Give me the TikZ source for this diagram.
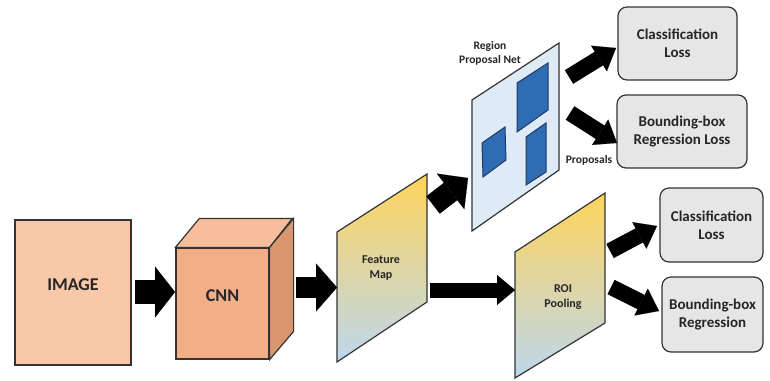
\documentclass[tikz,border=0pt]{standalone}
\usepackage{fontspec}
\setmainfont{Carlito}
\usetikzlibrary{arrows.meta}
\definecolor{edge}{HTML}{333333}
\definecolor{txt}{HTML}{262626}
\definecolor{imgfill}{HTML}{F8C8A8}
\definecolor{cnnfront}{HTML}{F2AE86}
\definecolor{cnntop}{HTML}{F6BE9C}
\definecolor{cnnside}{HTML}{D8976E}
\definecolor{fmtop}{HTML}{FFD45C}
\definecolor{fmmid}{HTML}{F3E2AE}
\definecolor{fmbot}{HTML}{BDD7EE}
\definecolor{rpnfill}{HTML}{DEEBF7}
\definecolor{sqfill}{HTML}{2E6DB4}
\definecolor{sqedge}{HTML}{1F3A60}
\definecolor{boxfill}{HTML}{E7E6E6}
\tikzset{
  outl/.style={draw=edge, line width=1.2pt, line join=miter},
  lossbox/.style={outl, fill=boxfill, rounded corners=9pt, inner sep=0pt, align=center, text=txt,
    font=\bfseries\fontsize{15}{18}\selectfont},
  smalltxt/.style={text=txt, align=center, font=\bfseries\fontsize{11.5}{14}\selectfont},
  midtxt/.style={text=txt, align=center, font=\bfseries\fontsize{12}{15}\selectfont},
  bigtxt/.style={text=txt, font=\bfseries\fontsize{18}{20}\selectfont},
  gradpanel/.style={outl, top color=fmtop, middle color=fmmid, bottom color=fmbot},
  blockarrow/.style n args={3}{draw=black, line width=#1, line cap=butt,
    -{Triangle[length=#3, width=#2, line width=0.1pt]}},
  blueSq/.style={draw=sqedge, line width=1pt, fill=sqfill}
}
\begin{document}
\begin{tikzpicture}[x=1pt,y=-1pt]
\useasboundingbox (0,0) rectangle (770,380);
\fill[white] (0,0) rectangle (770,380);

% IMAGE
\node[outl, fill=imgfill, minimum width=116pt, minimum height=145pt, inner sep=0pt] (img) at (73,292.5) {};
\node[bigtxt] (imgtxt) at (73,285) {IMAGE};

% CNN cube
\node[outl, fill=cnnfront, minimum width=93pt, minimum height=111pt, inner sep=0pt] (cnn) at (222.5,303.5) {};
\path[outl, fill=cnntop] (cnn.north west) -- ++(24,-29) -- ++(93,0) -- (cnn.north east) -- cycle;
\path[outl, fill=cnnside] (cnn.north east) -- ++(24,-29) -- ++(0,113) -- (cnn.south east) -- cycle;
\node[bigtxt] (cnntxt) at (222.5,296) {CNN};

% Feature map
\path[gradpanel] (337,232) -- (427,174) -- (427,302) -- (337,362) -- cycle;
\node[midtxt] (fm) at (381,268) {Feature\\Map};

% ROI pooling
\path[gradpanel] (515,252) -- (605,193) -- (605,323) -- (515,378) -- cycle;
\node[midtxt] (roi) at (563,297) {ROI\\Pooling};

% Region proposal net
\path[outl, fill=rpnfill] (472,100) -- (559,43) -- (559,170) -- (472,231) -- cycle;
\path[blueSq] (517,83) -- (548,63) -- (548,110) -- (517,132) -- cycle;
\path[blueSq] (482,143) -- (505,127) -- (506,160) -- (483,177) -- cycle;
\path[blueSq] (526,137) -- (546,123) -- (546,172) -- (526,185) -- cycle;
\node[smalltxt] (rpn) at (490,53) {Region\\Proposal Net};
\node[smalltxt] (prop) at (589,160) {Proposals};

% Loss boxes
\node[lossbox, minimum width=119pt, minimum height=73pt] (cls1) at (677.5,43.5) {Classification\\Loss};
\node[lossbox, minimum width=130pt, minimum height=73pt] (bb1) at (682,131.5) {Bounding-box\\Regression Loss};
\node[lossbox, minimum width=103pt, minimum height=74pt] (cls2) at (711.5,225) {Classification\\Loss};
\node[lossbox, minimum width=101pt, minimum height=75pt] (bb2) at (712.5,314.5) {Bounding-box\\Regression};

% arrow end points
\coordinate (a1s) at (135,292);
\coordinate (a1e) at (175,292);
\coordinate (a2s) at (296,287.5);
\coordinate (a2e) at (337,287.5);
\coordinate (a3s) at (430,290);
\coordinate (a3e) at (515,290);
\coordinate (a4s) at (433,205);
\coordinate (a4e) at (468,178);
\coordinate (a5s) at (569,77);
\coordinate (a5e) at (616,48);
\coordinate (a6s) at (570,113);
\coordinate (a6e) at (617,143);
\coordinate (a7s) at (610,251);
\coordinate (a7e) at (657,226);
\coordinate (a8s) at (611,287);
\coordinate (a8e) at (659,311);

\draw[blockarrow={24pt}{51pt}{20pt}] (a1s) -- (a1e);
\draw[blockarrow={21pt}{48pt}{21pt}] (a2s) -- (a2e);
\draw[blockarrow={15pt}{30pt}{18pt}] (a3s) -- (a3e);
\draw[blockarrow={22pt}{45pt}{22pt}] (a4s) -- (a4e);
\draw[blockarrow={16pt}{30pt}{20pt}] (a5s) -- (a5e);
\draw[blockarrow={16pt}{30pt}{20pt}] (a6s) -- (a6e);
\draw[blockarrow={16pt}{30pt}{20pt}] (a7s) -- (a7e);
\draw[blockarrow={16pt}{30pt}{20pt}] (a8s) -- (a8e);
\end{tikzpicture}
\end{document}
